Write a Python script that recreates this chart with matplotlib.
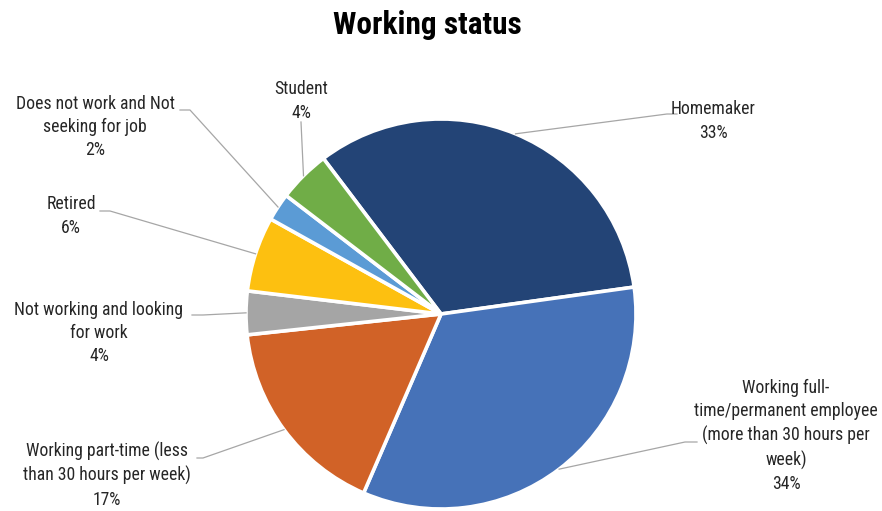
import numpy as np
import matplotlib.pyplot as plt

# Working status shares (percent)
labels = [
    'Homemaker',
    'Working full-\ntime/permanent employee\n(more than 30 hours per\nweek)',
    'Working part-time (less\nthan 30 hours per week)',
    'Not working and looking\nfor work',
    'Retired',
    'Does not work and Not\nseeking for job',
    'Student',
]
shares = [33.1, 33.7, 16.8, 3.6, 6.2, 2.3, 4.3]
colors = ['#234476', '#4672B8', '#D16227', '#A5A5A5', '#FDC010', '#5B9BD5', '#70AD47']

W, H = 882, 511
cx, cy, R = 441, 314, 195   # pie centre and radius in pixels


def to_data(px, py):
    return (px - cx) / R, (cy - py) / R


# label block centre, then leader points: label end, elbow
label_pos = [
    ((713, 121), [(677, 114), (667, 114)]),
    ((786, 436), [(697, 442), (685, 442)]),
    ((107, 475), [(197, 458), (203, 458)]),
    ((99, 333), [(192, 315), (203, 315)]),
    ((71, 216), [(100, 211), (110, 211)]),
    ((95, 127), [(180, 110), (190, 110)]),
    ((301, 101), [(301, 122)]),
]

font = ['Liberation Sans Narrow', 'Roboto Condensed', 'DejaVu Sans']

fig = plt.figure(figsize=(W / 100, H / 100), dpi=100)
ax = fig.add_axes([0, 0, 1, 1])

wedges, _ = ax.pie(shares, colors=colors, startangle=127.1, counterclock=False,
                   radius=1, wedgeprops=dict(edgecolor='white', linewidth=2.6))

ax.set_xlim(-cx / R, (W - cx) / R)
ax.set_ylim(-(H - cy) / R, cy / R)
ax.set_aspect('equal')
ax.axis('off')

for w, lab, val, (centre, pts) in zip(wedges, labels, shares, label_pos):
    mid = np.deg2rad((w.theta1 + w.theta2) / 2)
    edge = (np.cos(mid), np.sin(mid))
    xs, ys = zip(*[to_data(*p) for p in pts])
    ax.plot(list(xs) + [edge[0]], list(ys) + [edge[1]], color='#A6A6A6', lw=0.9)
    tx, ty = to_data(*centre)
    ax.text(tx, ty, f'{lab}\n{round(val)}%', ha='center', va='center',
            fontsize=12.7, family=font, fontstretch='condensed',
            color='#262626', linespacing=1.37)

fig.text(427 / W, 1 - 25 / H, 'Working status', ha='center', va='center',
         fontsize=22.5, fontweight='heavy', family=font, fontstretch='condensed',
         color='black')

fig.savefig('out.png', dpi=100)
